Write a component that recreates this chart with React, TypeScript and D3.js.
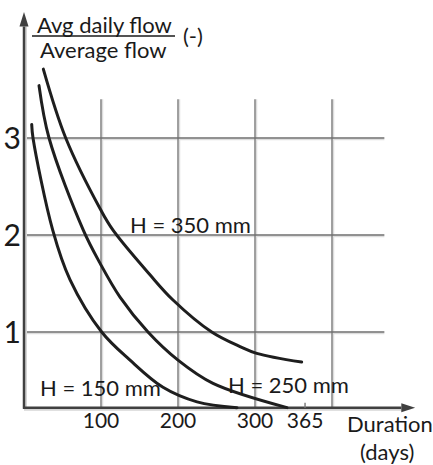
import * as d3 from 'd3'
import { useEffect, useRef } from 'react'

// duration (days) / ratio, one pair of arrays per curve
const days150 = [10, 11.7, 37.3, 59.7, 100.9, 137.7, 180.5, 224.7, 276.6]
const flow150 = [3.14, 3.0, 2.05, 1.54, 1.0, 0.71, 0.43, 0.28, 0.22]

const days250 = [19.5, 32.5, 77, 98.7, 124.7, 161, 200, 245.5, 341.6]
const flow250 = [3.54, 3.0, 2.05, 1.71, 1.36, 1.0, 0.71, 0.47, 0.22]

const days350 = [25.1, 54.2, 99.6, 115.6, 163.6, 193.5, 243.8, 280.5, 302.2, 360.6]
const flow350 = [3.71, 3.0, 2.26, 2.05, 1.59, 1.33, 1.0, 0.85, 0.78, 0.69]

const xTicks = [100, 200, 300, 365]
const xGrid = [100, 200, 300, 400]
const yTicks = [1, 2, 3]

const curveLabels = ['H = 150 mm', 'H = 250 mm', 'H = 350 mm']

function App() {
    const ref = useRef<SVGSVGElement>(null)

    useEffect(() => {
        const svg = d3.select(ref.current)
        svg.selectAll('*').remove()

        const x = d3.scaleLinear().domain([0, 400]).range([24, 332])
        const y = d3.scaleLinear().domain([1, 3]).range([332, 138])

        const x0 = x(0)
        const base = y(0.22)
        const font = 'Lato, "Open Sans", sans-serif'

        // grid
        const grid = svg.append('g')
        grid.selectAll('line.vs')
            .data(xGrid)
            .enter()
            .append('line')
            .attr('x1', (d) => x(d) + 1.5)
            .attr('x2', (d) => x(d) + 1.5)
            .attr('y1', y(3.4))
            .attr('y2', base)
            .attr('stroke', '#dddddd')
            .attr('stroke-width', 1.5)
        grid.selectAll('line.hs')
            .data(yTicks)
            .enter()
            .append('line')
            .attr('x1', x0)
            .attr('x2', x(468))
            .attr('y1', (d) => y(d) + 1.5)
            .attr('y2', (d) => y(d) + 1.5)
            .attr('stroke', '#dddddd')
            .attr('stroke-width', 1.5)
        grid.selectAll('line.v')
            .data(xGrid)
            .enter()
            .append('line')
            .attr('x1', (d) => x(d))
            .attr('x2', (d) => x(d))
            .attr('y1', y(3.4))
            .attr('y2', base)
            .attr('stroke', '#808080')
            .attr('stroke-width', 1.5)
        grid.selectAll('line.h')
            .data(yTicks)
            .enter()
            .append('line')
            .attr('x1', x0)
            .attr('x2', x(468))
            .attr('y1', (d) => y(d))
            .attr('y2', (d) => y(d))
            .attr('stroke', '#6e6e6e')
            .attr('stroke-width', 1.5)

        // axes with arrows
        const axisColor = '#404040'
        const ax = svg.append('g')
        ax.append('line')
            .attr('x1', x0 + 2).attr('x2', x0 + 2)
            .attr('y1', y(4.15)).attr('y2', base + 2)
            .attr('stroke', '#d6d6d6').attr('stroke-width', 2)
        ax.append('line')
            .attr('x1', x0).attr('x2', x(490) + 2)
            .attr('y1', base + 2).attr('y2', base + 2)
            .attr('stroke', '#d6d6d6').attr('stroke-width', 2)
        ax.append('line')
            .attr('x1', x0).attr('x2', x0)
            .attr('y1', y(4.15)).attr('y2', base + 1)
            .attr('stroke', axisColor).attr('stroke-width', 2.5)
        ax.append('line')
            .attr('x1', x0 - 1).attr('x2', x(490))
            .attr('y1', base).attr('y2', base)
            .attr('stroke', axisColor).attr('stroke-width', 2.5)
        ax.append('path')
            .attr('d', `M${x0},${y(4.3)} L${x0 - 4.5},${y(4.15)} L${x0 + 4.5},${y(4.15)} Z`)
            .attr('fill', axisColor)
        ax.append('path')
            .attr('d', `M${x(508)},${base} L${x(490)},${base - 4.5} L${x(490)},${base + 4.5} Z`)
            .attr('fill', axisColor)
        // small tick at 365
        ax.append('line')
            .attr('x1', x(365)).attr('x2', x(365))
            .attr('y1', base - 5).attr('y2', base)
            .attr('stroke', '#808080').attr('stroke-width', 1.5)

        // curves
        const line = d3
            .line<[number, number]>()
            .x((d) => x(d[0]))
            .y((d) => y(d[1]))
            .curve(d3.curveCatmullRom.alpha(0.5))

        const series: [number, number][][] = [
            days150.map((d, i) => [d, flow150[i]]),
            days250.map((d, i) => [d, flow250[i]]),
            days350.map((d, i) => [d, flow350[i]]),
        ]
        svg.append('g')
            .selectAll('path')
            .data(series)
            .enter()
            .append('path')
            .attr('d', (d) => line(d))
            .attr('fill', 'none')
            .attr('stroke', '#1e1e1e')
            .attr('stroke-width', 3)
            .attr('stroke-linecap', 'round')

        // tick labels
        svg.append('g')
            .selectAll('text')
            .data(yTicks)
            .enter()
            .append('text')
            .attr('x', x0 - 3)
            .attr('y', (d) => y(d) + 11)
            .attr('text-anchor', 'end')
            .attr('font-family', font)
            .attr('font-size', 30)
            .attr('fill', '#1a1a1a')
            .text((d) => d)

        svg.append('g')
            .selectAll('text')
            .data(xTicks)
            .enter()
            .append('text')
            .attr('x', (d) => x(d))
            .attr('y', 428)
            .attr('text-anchor', 'middle')
            .attr('font-family', font)
            .attr('font-size', 21)
            .attr('fill', '#1a1a1a')
            .text((d) => d)

        // curve labels
        const labelPos = [
            [40, 396],
            [228, 393],
            [130, 233],
        ]
        svg.append('g')
            .selectAll('text')
            .data(curveLabels)
            .enter()
            .append('text')
            .attr('x', (d, i) => labelPos[i][0])
            .attr('y', (d, i) => labelPos[i][1])
            .attr('font-family', font)
            .attr('font-size', 22)
            .attr('fill', '#1a1a1a')
            .text((d) => d)

        // axis titles
        const t = svg.append('g').attr('font-family', font).attr('font-size', 22).attr('fill', '#1a1a1a')
        t.append('text').attr('x', 37).attr('y', 33).text('Avg daily flow')
        t.append('line')
            .attr('x1', 32).attr('x2', 175)
            .attr('y1', 36).attr('y2', 36)
            .attr('stroke', '#1a1a1a').attr('stroke-width', 1.5)
        t.append('text').attr('x', 40).attr('y', 58).text('Average flow')
        t.append('text').attr('x', 183).attr('y', 44).text('(-)')
        t.append('text').attr('x', 347).attr('y', 432).text('Duration')
        t.append('text').attr('x', 360).attr('y', 460).text('(days)')
    }, [])

    return (
        <svg
            ref={ref}
            width={433}
            height={465}
            style={{ position: 'absolute', left: 0, top: 0, background: '#fff' }}
        />
    )
}

export default App
